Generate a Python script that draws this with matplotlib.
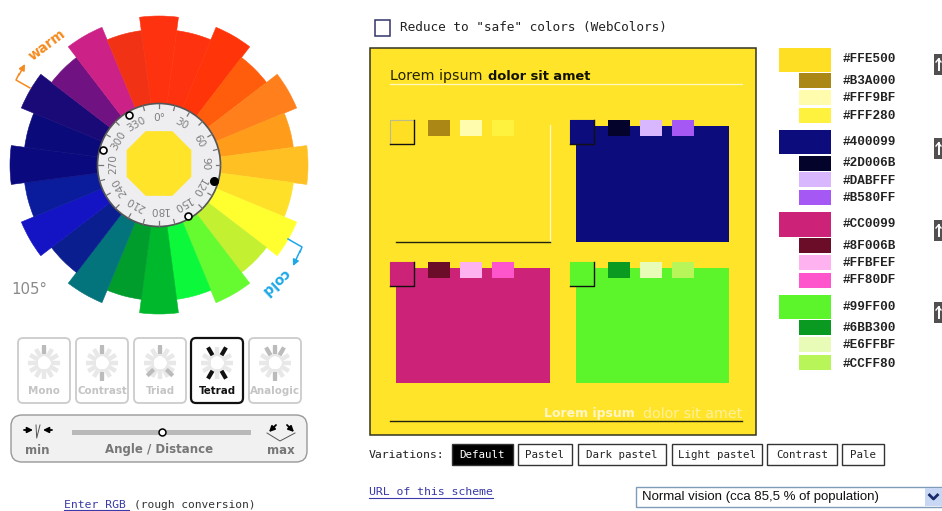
import numpy as np
import matplotlib
matplotlib.use("Agg")
import matplotlib.pyplot as plt
from matplotlib.patches import Wedge, Circle, Rectangle, RegularPolygon, FancyBboxPatch

# wheel, one colour every 15 degrees starting from the top, clockwise
wheel_angles = [0, 15, 30, 45, 60, 75, 90, 105, 120, 135, 150, 165,
                180, 195, 210, 225, 240, 255, 270, 285, 300, 315, 330, 345]
wheel_colors = ["#FF3210", "#FF3210", "#FF3408", "#FF5C0C", "#FF7F1C", "#FF9C1A",
                "#FFC024", "#FFE028", "#FFFF30", "#C4F032", "#66FA30", "#0CF83A",
                "#00B82C", "#009C2C", "#04747C", "#0A1E90", "#1414C4", "#0A1C9C",
                "#0A0A7E", "#0A0A7A", "#1A0A78", "#701282", "#CC2288", "#F23214"]
ring_labels = ["0°", "30", "60", "90", "120", "150", "180", "210", "240", "270", "300", "330"]

# scheme
group_colors = [["#FFDF24", "#AB8815", "#FFFCAE", "#FFF23F"],
                ["#0C0C7C", "#03032C", "#D9B7FF", "#A658F4"],
                ["#CC2277", "#6B0C28", "#FFB2F0", "#FF55CC"],
                ["#5CF52C", "#0A9A22", "#E8FCB8", "#B8F558"]]
group_hex = [["#FFE500", "#B3A000", "#FFF9BF", "#FFF280"],
             ["#400099", "#2D006B", "#DABFFF", "#B580FF"],
             ["#CC0099", "#8F006B", "#FFBFEF", "#FF80DF"],
             ["#99FF00", "#6BB300", "#E6FFBF", "#CCFF80"]]

# buttons
scheme_names = ["Mono", "Contrast", "Triad", "Tetrad", "Analogic"]
scheme_spokes = [[0], [0, 180], [0, 135, 225], [30, 150, 210, 330], [330, 0, 30, 180]]
variation_names = ["Default", "Pastel", "Dark pastel", "Light pastel", "Contrast", "Pale"]

fig = plt.figure(figsize=(9.42, 5.11), dpi=100)
ax = fig.add_axes([0, 0, 1, 1])
ax.set_xlim(0, 942)
ax.set_ylim(511, 0)
ax.axis("off")

PX = 0.72  # points per pixel at dpi 100
LINK = "#3A3AA8"
MONO = "DejaVu Sans Mono"
cx, cy = 159, 165


def rect(x0, y0, x1, y1, color, **kw):
    ax.add_patch(Rectangle((x0, y0), x1 - x0, y1 - y0, facecolor=color, edgecolor=kw.pop("edge", "none"),
                           linewidth=kw.pop("lw", 0), **kw))


def polar(r, a):
    return cx + r * np.sin(np.radians(a)), cy - r * np.cos(np.radians(a))


# colour wheel
for a, c in zip(wheel_angles, wheel_colors):
    r = 149 if a % 30 == 0 else 135.5
    ax.add_patch(Wedge((cx, cy), r, a - 97.5, a - 82.5, facecolor=c, edgecolor=c, linewidth=0.4))

ax.add_patch(Circle((cx, cy), 61.5, facecolor="#EEEEF1", edgecolor="#555555", linewidth=1.2))
for a in np.arange(0, 360, 15):
    x0, y0 = polar(61, a)
    x1, y1 = polar(56.5, a)
    ax.plot([x0, x1], [y0, y1], color="#777777", lw=0.9)
for a, lab in zip(wheel_angles[::2], ring_labels):
    x, y = polar(46, a)
    ax.text(x, y - 1, lab, rotation=-a, ha="center", va="center", rotation_mode="anchor",
            fontsize=10.5 * PX, color="#808080")
ax.add_patch(RegularPolygon((cx, 163.5), 8, radius=35, orientation=np.pi / 8, facecolor="#FFE42A", edgecolor="none"))

ax.plot([213.7], [180.7], "o", ms=5.5, mfc="black", mec="black")
for x, y in [(129, 115), (103, 150), (187.7, 215.7)]:
    ax.plot([x], [y], "o", ms=5, mfc="white", mec="black", mew=1.2)

# warm / cold hints
ax.text(47, 45, "warm", rotation=37, ha="center", va="center", rotation_mode="anchor",
        fontsize=13.5 * PX, fontweight="bold", color="#F58A1E")
ax.plot([30, 16, 19], [88, 80, 74], color="#F58A1E", lw=1.1)
ax.annotate("", xy=(25, 64), xytext=(19, 75),
            arrowprops=dict(arrowstyle="-|>", color="#F58A1E", lw=1.1, shrinkA=0, shrinkB=0, mutation_scale=9))
ax.text(275, 282, "cold", rotation=223, ha="center", va="center", rotation_mode="anchor",
        fontsize=14 * PX, fontweight="bold", color="#1EA8E8")
ax.plot([288, 302, 300], [239, 247, 252], color="#1EA8E8", lw=1.1)
ax.annotate("", xy=(293, 266), xytext=(300, 251),
            arrowprops=dict(arrowstyle="-|>", color="#1EA8E8", lw=1.1, shrinkA=0, shrinkB=0, mutation_scale=9))
ax.text(11, 289, "105°", ha="left", va="center", fontsize=15 * PX, color="#8A8A8A")

# scheme buttons
btn_x = [18, 76, 134, 191, 249]
for i, name in enumerate(scheme_names):
    x0 = btn_x[i]
    active = name == "Tetrad"
    ax.add_patch(FancyBboxPatch((x0 + 4, 342), 44, 57, boxstyle="round,pad=4,rounding_size=5",
                                facecolor="white", edgecolor="#111111" if active else "#CCCCCC",
                                linewidth=1.6 if active else 1.3))
    bx, by = x0 + 26, 363
    for a in range(0, 360, 30):
        s, co = np.sin(np.radians(a)), np.cos(np.radians(a))
        ax.plot([bx + 6.5 * s, bx + 16 * s], [by - 6.5 * co, by - 16 * co],
                color="#E8E8E8", lw=3.2, solid_capstyle="butt")
    for a in scheme_spokes[i]:
        s, co = np.sin(np.radians(a)), np.cos(np.radians(a))
        ax.plot([bx + 9 * s, bx + 18 * s], [by - 9 * co, by - 18 * co],
                color="#111111" if active else "#BBBBBB", lw=3, solid_capstyle="butt")
    ax.text(bx, 391, name, ha="center", va="center", fontsize=10.3 * PX, fontweight="bold",
            color="#111111" if active else "#C4C4C4")

# angle / distance slider
ax.add_patch(FancyBboxPatch((19, 423), 280, 31, boxstyle="round,pad=8,rounding_size=11",
                            facecolor="#F1F1F1", edgecolor="#999999", linewidth=1))
rect(72, 430, 251, 435, "#B9B9B9")
ax.plot([162], [432], "o", ms=5, mfc="white", mec="black", mew=1.1)
ax.text(37, 450, "min", ha="center", va="center", fontsize=11.7 * PX, fontweight="bold", color="#777777")
ax.text(159, 450, "Angle / Distance", ha="center", va="center", fontsize=11.7 * PX, fontweight="bold", color="#777777")
ax.text(281, 450, "max", ha="center", va="center", fontsize=11.7 * PX, fontweight="bold", color="#777777")
arrow = dict(arrowstyle="-|>", color="black", lw=1.3, shrinkA=0, shrinkB=0, mutation_scale=8)
ax.annotate("", xy=(33, 430), xytext=(24, 430), arrowprops=arrow)
ax.annotate("", xy=(43, 430), xytext=(52, 430), arrowprops=arrow)
ax.plot([36, 36.7, 40], [425, 438, 425], color="#555555", lw=0.7)
ax.annotate("", xy=(269, 432), xytext=(276, 425), arrowprops=arrow)
ax.annotate("", xy=(294, 432), xytext=(287, 425), arrowprops=arrow)
ax.plot([267, 280, 295], [433, 441, 433], color="#555555", lw=0.7)

# left-bottom link
ax.text(64, 505, "Enter RGB", ha="left", va="center", fontsize=11.4 * PX, fontfamily=MONO, color=LINK)
ax.plot([64, 129], [510.5, 510.5], color=LINK, lw=0.8)
ax.text(134, 505, "(rough conversion)", ha="left", va="center", fontsize=11.2 * PX, fontfamily=MONO, color="#333333")

# top check box
rect(375, 20, 390, 36, "white", edge="#33336A", lw=1.1)
ax.text(400, 27, 'Reduce to "safe" colors (WebColors)', ha="left", va="center", fontsize=12.7 * PX,
        fontfamily=MONO, color="#222222")

# preview panel
rect(370, 48, 756, 435.5, "#FFE42A", edge="#333322", lw=1.1)
ax.text(390, 76, "Lorem ipsum", ha="left", va="center", fontsize=14.3 * PX, color="#222200")
ax.text(488, 76, "dolor sit amet", ha="left", va="center", fontsize=13 * PX, fontweight="bold", color="#111100")
ax.plot([390, 742], [84.5, 84.5], color="#FFF8C0", lw=0.9)
ax.plot([550, 550], [125, 242], color="#FFF8C0", lw=0.9)
ax.plot([396, 550], [242, 242], color="#222211", lw=1)

rect(575.5, 126, 729, 242, group_colors[1][0])
rect(396, 268, 550, 383, group_colors[2][0])
rect(575.5, 268, 729, 383, group_colors[3][0])

for g, (mx, my) in enumerate([(390, 120), (570, 120), (390, 262), (570, 262)]):
    rect(mx, my, mx + 24, my + 24, group_colors[g][0])
    ax.plot([mx, mx, mx + 24], [my + 24, my, my], color="#BBBB88" if g == 0 else group_colors[g][0], lw=0.8)
    ax.plot([mx, mx + 24, mx + 24], [my + 24, my + 24, my], color="#111111", lw=1)
    for k in range(3):
        sx = mx + 38 + 32 * k
        rect(sx, my, sx + 22, my + 16.5, group_colors[g][k + 1])

ax.text(544, 414, "Lorem ipsum", ha="left", va="center", fontsize=12.5 * PX, fontweight="bold", color="#FFF6C8")
ax.text(643, 414, "dolor sit amet", ha="left", va="center", fontsize=14.3 * PX, color="#FFF09A")
ax.plot([390, 742], [421, 421], color="#222211", lw=1)

# palette on the right
big_top = [48, 130, 212.5, 295]
small_tops = [[73.5, 90, 108.5], [156, 172.5, 190.5], [238, 255, 273], [320.5, 337, 355]]
label_y = [[59, 81, 98, 116], [141.7, 163, 180.7, 198.3], [223.7, 246, 262.7, 280], [306.7, 328, 345, 364]]
icon_y = [54, 138, 220, 302]
for g in range(4):
    rect(779, big_top[g], 831, big_top[g] + 24.5, group_colors[g][0])
    for k in range(3):
        rect(798.5, small_tops[g][k], 831, small_tops[g][k] + 15, group_colors[g][k + 1])
    for k in range(4):
        ax.text(843, label_y[g][k], group_hex[g][k], ha="left", va="center", fontsize=12.6 * PX,
                fontfamily="Liberation Mono", fontweight="bold", color="#222222")
    rect(934, icon_y[g], 942, icon_y[g] + 21, "#505050")
    ax.plot([938.5, 938.5], [icon_y[g] + 5, icon_y[g] + 16], color="white", lw=1.4)
    ax.plot([936, 938.5, 941], [icon_y[g] + 8, icon_y[g] + 5, icon_y[g] + 8], color="white", lw=1)

# variations row
ax.text(369, 455, "Variations:", ha="left", va="center", fontsize=11.5 * PX, fontfamily=MONO, color="#222222")
var_left = [452, 518, 578, 672, 767, 842]
var_right = [513, 572, 666, 762, 837, 884]
for i, name in enumerate(variation_names):
    on = i == 0
    rect(var_left[i], 444.5, var_right[i], 465.5, "black" if on else "white", edge="#333333", lw=1)
    ax.text((var_left[i] + var_right[i]) / 2, 455, name, ha="center", va="center", fontsize=10.7 * PX,
            fontfamily=MONO, color="white" if on else "#222222")

ax.text(369, 492, "URL of this scheme", ha="left", va="center", fontsize=11.5 * PX, fontfamily=MONO, color=LINK)
ax.plot([369, 493], [498.5, 498.5], color=LINK, lw=0.8)

# vision drop down
rect(636, 487, 941.5, 507, "white", edge="#7F9DB9", lw=1)
ax.text(642, 497, "Normal vision (cca 85,5 % of population)", ha="left", va="center", fontsize=13.2 * PX,
        fontfamily="Liberation Sans", color="#111111")
rect(925, 488, 941.5, 506, "#C8D8F4")
ax.plot([929.5, 933.5, 937.5], [495, 499, 495], color="#1A2A6A", lw=2)

fig.savefig("out.png", dpi=100)
